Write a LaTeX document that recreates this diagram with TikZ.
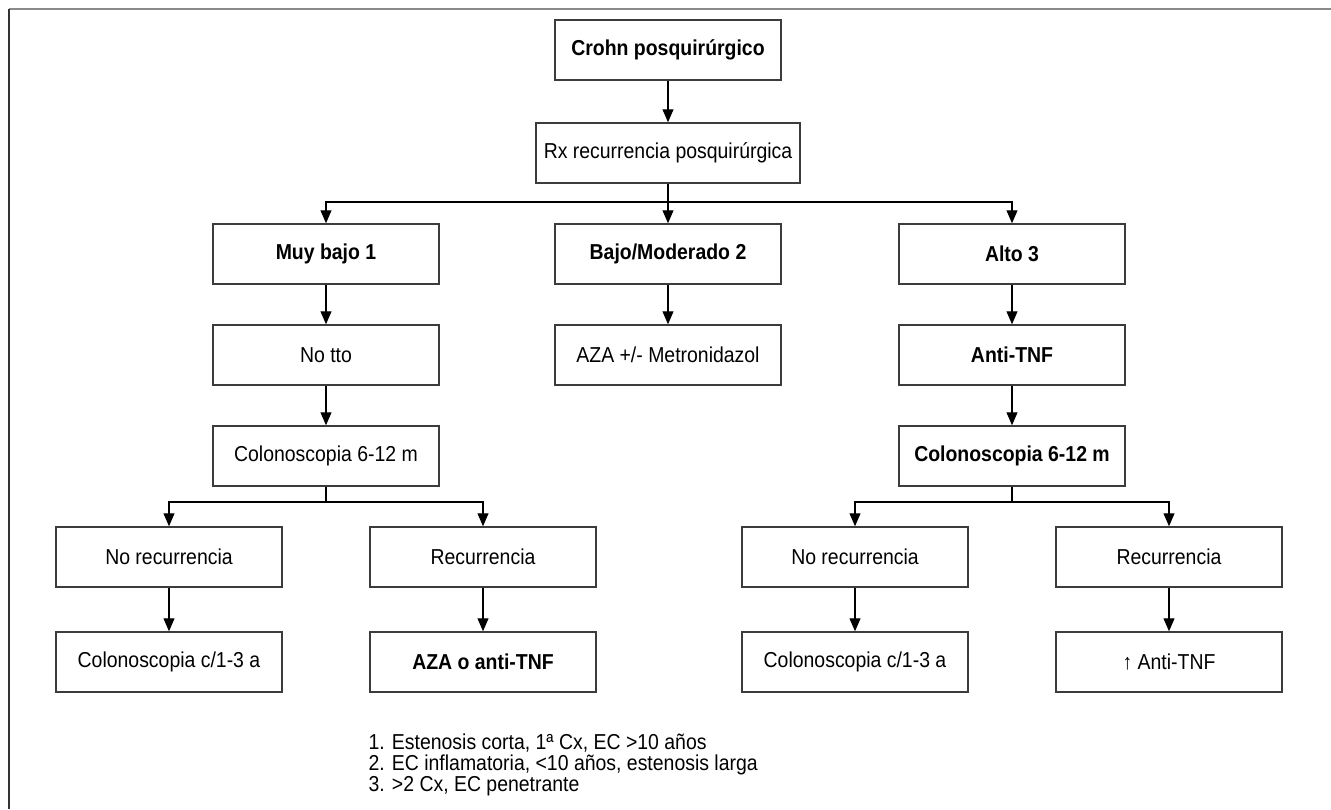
\documentclass[tikz,border=0pt]{standalone}
\usepackage{fontspec}
\setmainfont{Liberation Sans}[FakeStretch=0.9]
\usetikzlibrary{arrows.meta}
\definecolor{framegray}{HTML}{8A8A8A}
\definecolor{boxline}{HTML}{3C3C3C}

\begin{document}
\begin{tikzpicture}[x=0.5pt,y=-0.5pt,->,>={Triangle[length=6.5pt,width=5.5pt]},
    line width=0.55pt,node distance=50.5pt,
    box/.style={draw=boxline,line width=0.75pt,minimum width=113pt,
      minimum height=30pt,inner sep=2pt,font=\fontsize{10.8}{12.8}\selectfont},
    boldbox/.style={box,font=\fontsize{10.8}{12.8}\selectfont\bfseries}]
  \useasboundingbox (0,0) rectangle (1331,809);
  \draw[-,framegray,line width=1pt] (9,9) -- (1331,9);
  \draw[-,black!80,line width=0.75pt] (9,9) -- (9,809);

  \node[boldbox] (crohn) at (668,50) {Crohn posquirúrgico};
  \node[box,minimum width=132pt] (rx) [below of=crohn,node distance=51.5pt] {Rx recurrencia posquirúrgica};

  \node[boldbox] (muybajo) at (326,254) {Muy bajo 1};
  \node[boldbox] (bajo) at (668,254) {Bajo/Moderado 2};
  \node[boldbox] (alto) at (1012,254) {Alto 3};

  \node[box] (notto) [below of=muybajo] {No tto};
  \node[box] (aza) [below of=bajo] {AZA +/- Metronidazol};
  \node[boldbox] (antitnf) [below of=alto] {Anti-TNF};
  \node[box] (colonoA) [below of=notto] {Colonoscopia 6-12 m};
  \node[boldbox] (colonoB) [below of=antitnf] {Colonoscopia 6-12 m};

  \node[box] (norecA) at (169,557) {No recurrencia};
  \node[box] (recA) at (483,557) {Recurrencia};
  \node[box] (norecB) at (855,557) {No recurrencia};
  \node[box] (recB) at (1169,557) {Recurrencia};

  \node[box] (controlA) [below of=norecA,node distance=52.5pt] {Colonoscopia c/1-3 a};
  \node[boldbox] (tratA) [below of=recA,node distance=52.5pt] {AZA o anti-TNF};
  \node[box] (controlB) [below of=norecB,node distance=52.5pt] {Colonoscopia c/1-3 a};
  \node[box] (tratB) [below of=recB,node distance=52.5pt] {↑ Anti-TNF};

  \coordinate (splitTop) at (668,202);
  \coordinate (splitA) at (326,502);
  \coordinate (splitB) at (1012,502);

  \draw (crohn) -- (rx);
  \draw[-] (rx) -- (splitTop);
  \draw (splitTop) -| (muybajo);
  \draw (splitTop) -- (bajo);
  \draw (splitTop) -| (alto);

  \path (muybajo) edge (notto)
    (notto) edge (colonoA)
    (bajo) edge (aza)
    (alto) edge (antitnf)
    (antitnf) edge (colonoB);

  \draw[-] (colonoA) -- (splitA);
  \draw (splitA) -| (norecA);
  \draw (splitA) -| (recA);
  \draw[-] (colonoB) -- (splitB);
  \draw (splitB) -| (norecB);
  \draw (splitB) -| (recB);

  \path (norecA) edge (controlA)
    (recA) edge (tratA)
    (norecB) edge (controlB)
    (recB) edge (tratB);

  \node[anchor=north west,inner sep=0pt,align=left,
    font=\fontsize{10.8}{10.6}\selectfont] (notas) at (368,733)
    {1. Estenosis corta, 1ª Cx, EC >10 años\\
     2. EC inflamatoria, <10 años, estenosis larga\\
     3. >2 Cx, EC penetrante};
\end{tikzpicture}
\end{document}
